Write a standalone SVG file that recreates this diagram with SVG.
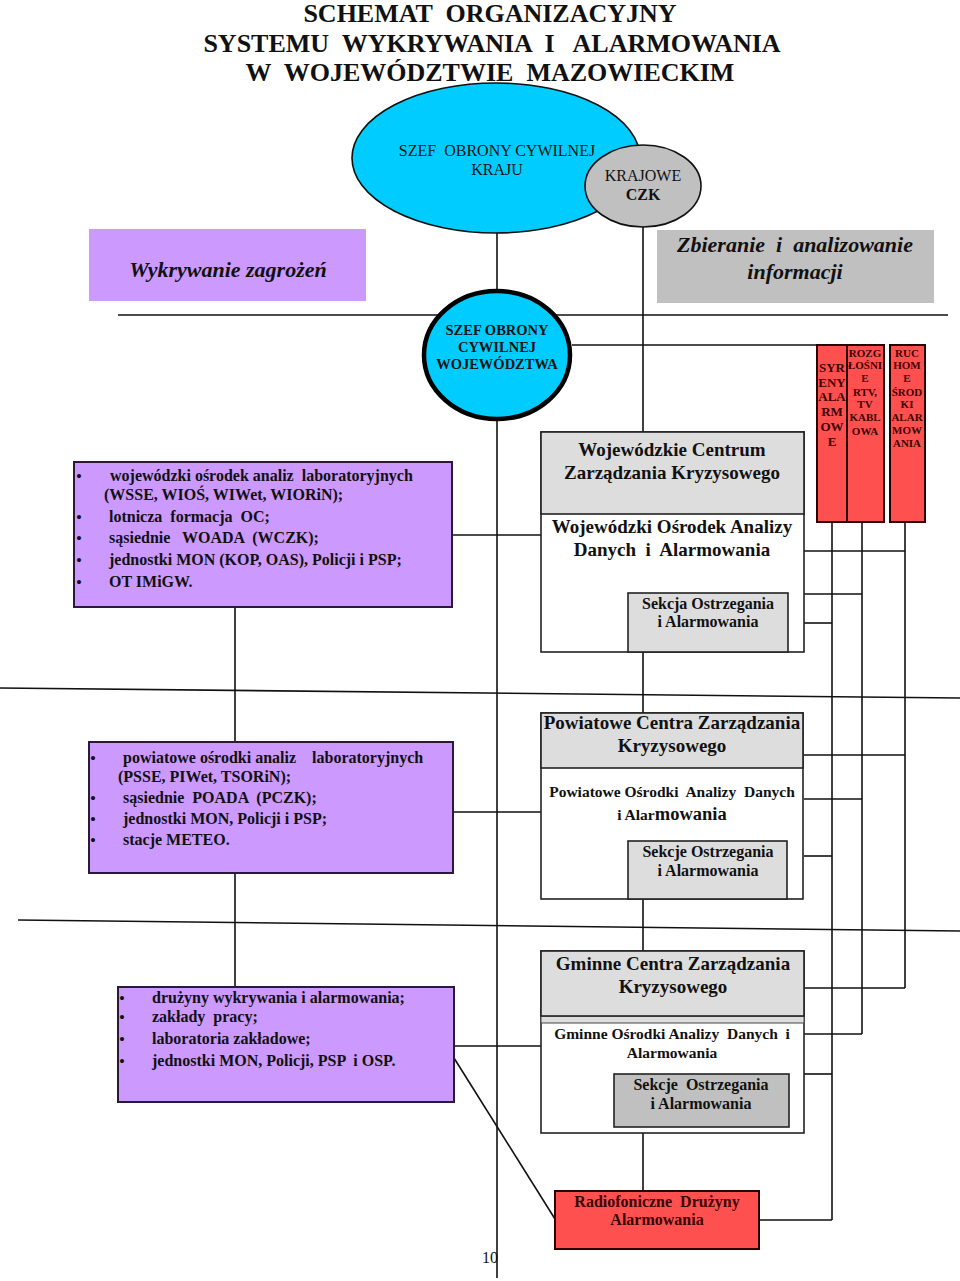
<svg xmlns="http://www.w3.org/2000/svg" width="960" height="1281" viewBox="0 0 960 1281" xml:space="preserve">
<style>
text{font-family:"Liberation Serif","Times New Roman",serif;fill:#111;white-space:pre;}
.b{font-weight:bold;}
.c{text-anchor:middle;}
.ln{stroke:#111;stroke-width:1.6;fill:none;}
.pur{fill:#CC99FF;stroke:#2a1a3a;stroke-width:2;}
.lg{fill:#DDDDDD;stroke:#222;stroke-width:1.6;}
.wh{fill:#FFFFFF;stroke:#222;stroke-width:1.6;}
.red{fill:#FF5050;stroke:#2a0000;stroke-width:2;}
.rt{font-weight:bold;text-anchor:middle;fill:#3b0000;}
.li{font-weight:bold;font-size:16px;}
.bu{font-size:17px;}
</style>
<rect width="960" height="1281" fill="#FFFFFF"/>
<g id="title">
<text class="b c" x="490" y="22" font-size="26">SCHEMAT  ORGANIZACYJNY</text>
<text class="b c" x="492" y="52" font-size="26">SYSTEMU  WYKRYWANIA  I   ALARMOWANIA</text>
<text class="b c" x="490" y="81" font-size="26">W  WOJEWÓDZTWIE  MAZOWIECKIM</text>
</g>
<g id="connectors">
<line class="ln" x1="497" y1="232" x2="497" y2="290"/>
<line class="ln" x1="643" y1="226" x2="643" y2="432"/>
<line class="ln" x1="118" y1="315" x2="948" y2="315"/>
<line class="ln" x1="572" y1="345" x2="817" y2="345"/>
<line class="ln" x1="497" y1="420" x2="497" y2="1278"/>
<line class="ln" x1="452" y1="535" x2="541" y2="535"/>
<line class="ln" x1="235" y1="607" x2="235" y2="742"/>
<line class="ln" x1="643" y1="652" x2="643" y2="713"/>
<line class="ln" x1="0" y1="688" x2="960" y2="698"/>
<line class="ln" x1="18" y1="920" x2="960" y2="931"/>
<line class="ln" x1="832" y1="522" x2="832" y2="1220"/>
<line class="ln" x1="862" y1="522" x2="862" y2="1034"/>
<line class="ln" x1="905" y1="522" x2="905" y2="988"/>
<line class="ln" x1="804" y1="551" x2="905" y2="551"/>
<line class="ln" x1="804" y1="594" x2="862" y2="594"/>
<line class="ln" x1="804" y1="623" x2="832" y2="623"/>
<line class="ln" x1="453" y1="812" x2="541" y2="812"/>
<line class="ln" x1="235" y1="873" x2="235" y2="987"/>
<line class="ln" x1="804" y1="755" x2="905" y2="755"/>
<line class="ln" x1="804" y1="799" x2="862" y2="799"/>
<line class="ln" x1="804" y1="856" x2="832" y2="856"/>
<line class="ln" x1="643" y1="899" x2="643" y2="951"/>
<line class="ln" x1="454" y1="1046" x2="541" y2="1046"/>
<line class="ln" x1="454" y1="1058" x2="555" y2="1219"/>
<line class="ln" x1="805" y1="988" x2="905" y2="988"/>
<line class="ln" x1="804" y1="1034" x2="862" y2="1034"/>
<line class="ln" x1="804" y1="1074" x2="832" y2="1074"/>
<line class="ln" x1="643" y1="1133" x2="643" y2="1191"/>
<line class="ln" x1="759" y1="1220" x2="832" y2="1220"/>
</g>
<g id="szef-kraju">
<ellipse cx="496" cy="158" rx="144" ry="75" fill="#00CCFF" stroke="#111" stroke-width="1.6"/>
<text class="c" x="497" y="156" font-size="16" fill="#1a1a44">SZEF  OBRONY CYWILNEJ</text>
<text class="c" x="497" y="175" font-size="16" fill="#1a1a44">KRAJU</text>
</g>
<g id="krajowe-czk">
<ellipse cx="643" cy="186" rx="58" ry="41" fill="#C0C0C0" stroke="#111" stroke-width="1.6"/>
<text class="c" x="643" y="181" font-size="16">KRAJOWE</text>
<text class="b c" x="643" y="200" font-size="16">CZK</text>
</g>
<g id="wykrywanie">
<rect x="89" y="229" width="277" height="72" fill="#CC99FF"/>
<text class="b c" x="228" y="277" font-size="22" font-style="italic">Wykrywanie zagrożeń</text>
</g>
<g id="zbieranie">
<rect x="657" y="230" width="277" height="73" fill="#C0C0C0"/>
<text class="b c" x="795" y="252" font-size="22" font-style="italic">Zbieranie  i  analizowanie</text>
<text class="b c" x="795" y="279" font-size="22" font-style="italic">informacji</text>
</g>
<g id="szef-woj">
<ellipse cx="497" cy="355" rx="73" ry="64" fill="#00CCFF" stroke="#000" stroke-width="4.5"/>
<text class="b c" x="497" y="335" font-size="14.5">SZEF OBRONY</text>
<text class="b c" x="497" y="352" font-size="14.5">CYWILNEJ</text>
<text class="b c" x="497" y="369" font-size="14.5">WOJEWÓDZTWA</text>
</g>
<g id="syreny">
<rect class="red" x="817" y="345" width="30" height="177"/>
<text class="rt" font-size="13" x="832" y="372">SYR</text>
<text class="rt" font-size="13" x="832" y="387">ENY</text>
<text class="rt" font-size="13" x="832" y="401">ALA</text>
<text class="rt" font-size="13" x="832" y="416">RM</text>
<text class="rt" font-size="13" x="832" y="431">OW</text>
<text class="rt" font-size="13" x="832" y="446">E</text>
</g>
<g id="rozglosnie">
<rect class="red" x="847" y="345" width="37" height="177"/>
<text class="rt" font-size="11" x="865" y="357">ROZG</text>
<text class="rt" font-size="11" x="865" y="369">ŁOŚNI</text>
<text class="rt" font-size="11" x="865" y="382">E</text>
<text class="rt" font-size="11" x="865" y="396">RTV,</text>
<text class="rt" font-size="11" x="865" y="408">TV</text>
<text class="rt" font-size="11" x="865" y="421">KABL</text>
<text class="rt" font-size="11" x="865" y="435">OWA</text>
</g>
<g id="ruchome">
<rect class="red" x="890" y="345" width="35" height="177"/>
<text class="rt" font-size="11" x="907" y="357">RUC</text>
<text class="rt" font-size="11" x="907" y="369">HOM</text>
<text class="rt" font-size="11" x="907" y="382">E</text>
<text class="rt" font-size="11" x="907" y="396">ŚROD</text>
<text class="rt" font-size="11" x="907" y="408">KI</text>
<text class="rt" font-size="11" x="907" y="421">ALAR</text>
<text class="rt" font-size="11" x="907" y="434">MOW</text>
<text class="rt" font-size="11" x="907" y="447">ANIA</text>
</g>
<g id="woj-lista">
<rect class="pur" x="74" y="462" width="378" height="145"/>
<text class="bu" x="76" y="482">•</text>
<text class="bu" x="76" y="523">•</text>
<text class="bu" x="76" y="544">•</text>
<text class="bu" x="76" y="566">•</text>
<text class="bu" x="76" y="588">•</text>
<text class="li" x="110" y="481">wojewódzki ośrodek analiz  laboratoryjnych</text>
<text class="li" x="104" y="500">(WSSE, WIOŚ, WIWet, WIORiN);</text>
<text class="li" x="109" y="522">lotnicza  formacja  OC;</text>
<text class="li" x="109" y="543">sąsiednie   WOADA  (WCZK);</text>
<text class="li" x="109" y="565">jednostki MON (KOP, OAS), Policji i PSP;</text>
<text class="li" x="109" y="587">OT IMiGW.</text>
</g>
<g id="wczk">
<rect class="wh" x="541" y="432" width="263" height="220"/>
<rect class="lg" x="541" y="432" width="263" height="82"/>
<text class="b c" x="672" y="456" font-size="19">Wojewódzkie Centrum</text>
<text class="b c" x="672" y="479" font-size="19">Zarządzania Kryzysowego</text>
<text class="b c" x="672" y="533" font-size="19">Wojewódzki Ośrodek Analizy</text>
<text class="b c" x="672" y="556" font-size="19">Danych  i  Alarmowania</text>
<rect class="lg" x="628" y="593" width="160" height="59"/>
<text class="b c" x="708" y="609" font-size="16">Sekcja Ostrzegania</text>
<text class="b c" x="708" y="627" font-size="16">i Alarmowania</text>
</g>
<g id="pow-lista">
<rect class="pur" x="89" y="742" width="364" height="131"/>
<text class="bu" x="90" y="764">•</text>
<text class="bu" x="90" y="804">•</text>
<text class="bu" x="90" y="825">•</text>
<text class="bu" x="90" y="846">•</text>
<text class="li" x="123" y="763">powiatowe ośrodki analiz    laboratoryjnych</text>
<text class="li" x="118" y="782">(PSSE, PIWet, TSORiN);</text>
<text class="li" x="123" y="803">sąsiednie  POADA  (PCZK);</text>
<text class="li" x="123" y="824">jednostki MON, Policji i PSP;</text>
<text class="li" x="123" y="845">stacje METEO.</text>
</g>
<g id="pczk">
<rect class="wh" x="541" y="713" width="262" height="186" stroke-width="2.2"/>
<rect class="lg" x="541" y="713" width="262" height="55"/>
<text class="b c" x="672" y="729" font-size="19">Powiatowe Centra Zarządzania</text>
<text class="b c" x="672" y="752" font-size="19">Kryzysowego</text>
<text class="b c" x="672" y="797" font-size="15.5">Powiatowe Ośrodki  Analizy  Danych</text>
<text class="b c" x="672" y="820"><tspan font-size="15.5">i Alar</tspan><tspan font-size="18.5">mowania</tspan></text>
<rect class="lg" x="628" y="841" width="159" height="58"/>
<text class="b c" x="708" y="857" font-size="16">Sekcje Ostrzegania</text>
<text class="b c" x="708" y="876" font-size="16">i Alarmowania</text>
</g>
<g id="gmi-lista">
<rect class="pur" x="118" y="987" width="336" height="115"/>
<text class="bu" x="119" y="1004">•</text>
<text class="bu" x="119" y="1023">•</text>
<text class="bu" x="119" y="1045">•</text>
<text class="bu" x="119" y="1067">•</text>
<text class="li" x="152" y="1003">drużyny wykrywania i alarmowania;</text>
<text class="li" x="152" y="1022">zakłady  pracy;</text>
<text class="li" x="152" y="1044">laboratoria zakładowe;</text>
<text class="li" x="152" y="1066">jednostki MON, Policji, PSP  i OSP.</text>
</g>
<g id="gczk">
<rect class="wh" x="541" y="951" width="263" height="182"/>
<rect x="541" y="1016" width="263" height="7" fill="#DDDDDD" stroke="#444" stroke-width="1"/>
<rect class="lg" x="541" y="951" width="263" height="65" stroke-width="2.6"/>
<text class="b c" x="673" y="970" font-size="19">Gminne Centra Zarządzania</text>
<text class="b c" x="673" y="993" font-size="19">Kryzysowego</text>
<text class="b c" x="672" y="1039" font-size="15.5">Gminne Ośrodki Analizy  Danych  i</text>
<text class="b c" x="672" y="1058" font-size="15.5">Alarmowania</text>
<rect x="614" y="1074" width="175" height="53" fill="#C0C0C0" stroke="#222" stroke-width="1.6"/>
<text class="b c" x="701" y="1090" font-size="16">Sekcje  Ostrzegania</text>
<text class="b c" x="701" y="1109" font-size="16">i Alarmowania</text>
</g>
<g id="radiofoniczne">
<rect class="red" x="555" y="1191" width="204" height="58"/>
<text class="rt" x="657" y="1207" font-size="16">Radiofoniczne  Drużyny</text>
<text class="rt" x="657" y="1225" font-size="16">Alarmowania</text>
</g>
<text x="482" y="1263" font-size="16">10</text>
</svg>
